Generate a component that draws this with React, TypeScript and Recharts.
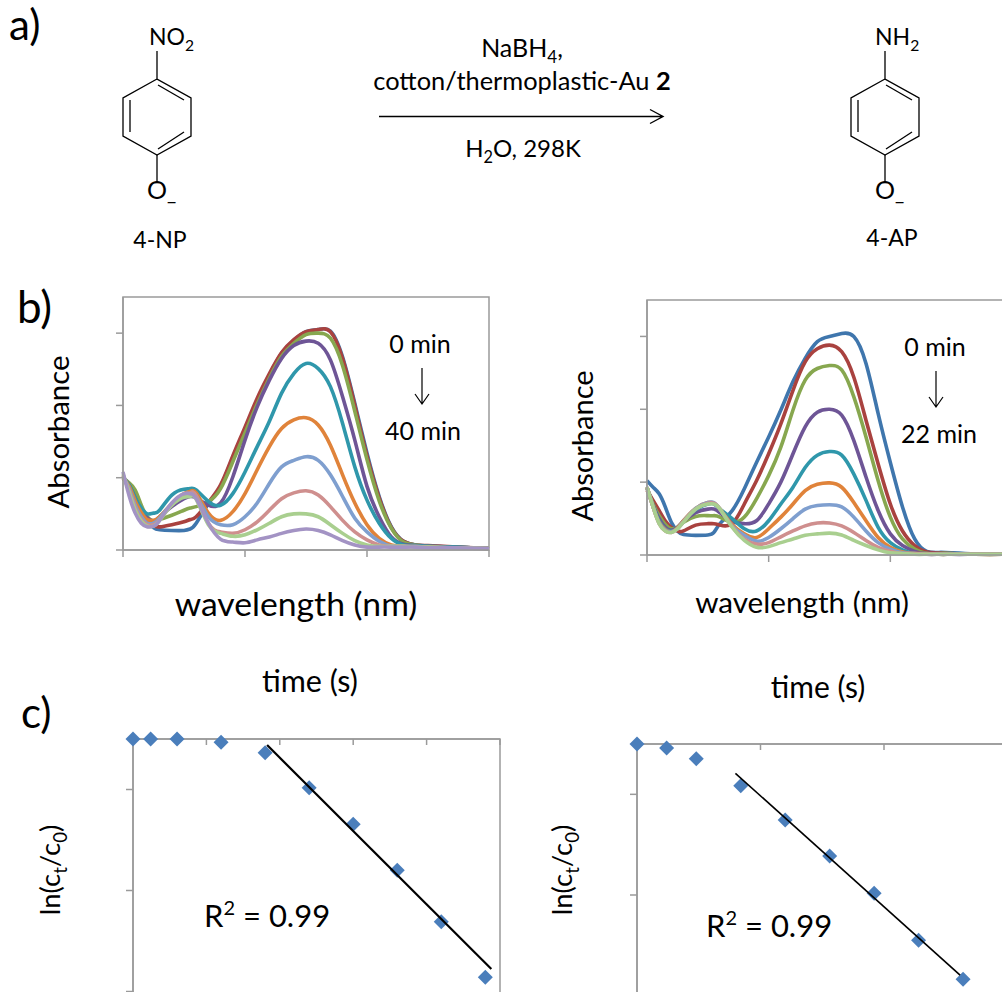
import React from 'react';
import { LineChart, Line, ScatterChart, Scatter, XAxis, YAxis, ReferenceArea } from 'recharts';

const FONT = 'Lato, "Open Sans", sans-serif';
const AXIS = '#9a9a9a';
const COLORS_A = ['#3f76ad', '#a9423f', '#87a74f', '#6e5596', '#2f97ab', '#e0833a', '#7f9fcf', '#cf8f8e', '#a9cf8f', '#a393c4'];
const COLORS_B = ['#3f76ad', '#a9423f', '#87a74f', '#6e5596', '#2f97ab', '#e0833a', '#7f9fcf', '#cf8f8e', '#a9cf8f'];

const wavelengths = [250, 255, 260, 265, 270, 275, 280, 290, 300, 305, 310, 320, 330, 340, 350, 360, 370, 380, 390, 400, 410, 420, 430, 440, 450, 460, 470, 480, 490, 500, 520, 550];

// left panel, 0 to 40 min
const spectraA = [
  [0.99, 0.9, 0.74, 0.55, 0.41, 0.31, 0.28, 0.27, 0.27, 0.29, 0.37, 0.64, 0.88, 1.28, 1.67, 2.07, 2.42, 2.72, 2.9, 3.02, 3.05, 3.03, 2.67, 2.03, 1.34, 0.74, 0.32, 0.12, 0.07, 0.055, 0.04, 0.02],
  [0.99, 0.9, 0.74, 0.55, 0.42, 0.34, 0.32, 0.35, 0.39, 0.42, 0.46, 0.66, 0.9, 1.3, 1.7, 2.1, 2.44, 2.73, 2.91, 3.02, 3.05, 3.02, 2.65, 2.0, 1.3, 0.72, 0.31, 0.12, 0.07, 0.06, 0.045, 0.02],
  [1.0, 0.93, 0.83, 0.62, 0.46, 0.4, 0.42, 0.48, 0.55, 0.58, 0.6, 0.67, 0.85, 1.22, 1.62, 2.02, 2.38, 2.68, 2.86, 2.98, 3.0, 2.93, 2.55, 1.92, 1.25, 0.68, 0.3, 0.11, 0.07, 0.05, 0.04, 0.02],
  [1.0, 0.9, 0.72, 0.55, 0.44, 0.4, 0.46, 0.6, 0.71, 0.74, 0.72, 0.62, 0.65, 1.01, 1.52, 1.98, 2.35, 2.65, 2.83, 2.89, 2.86, 2.63, 2.12, 1.52, 0.88, 0.46, 0.18, 0.08, 0.06, 0.05, 0.04, 0.02],
  [1.0, 0.9, 0.72, 0.58, 0.5, 0.51, 0.55, 0.76, 0.84, 0.85, 0.83, 0.67, 0.62, 0.78, 1.08, 1.43, 1.78, 2.17, 2.44, 2.58, 2.51, 2.26, 1.75, 1.15, 0.69, 0.37, 0.16, 0.07, 0.06, 0.05, 0.04, 0.02],
  [1.0, 0.88, 0.68, 0.52, 0.42, 0.41, 0.46, 0.64, 0.78, 0.81, 0.79, 0.51, 0.41, 0.53, 0.78, 1.11, 1.43, 1.68, 1.8, 1.83, 1.73, 1.45, 1.04, 0.65, 0.35, 0.16, 0.07, 0.05, 0.05, 0.04, 0.03, 0.02],
  [1.02, 0.85, 0.62, 0.46, 0.37, 0.37, 0.44, 0.64, 0.76, 0.78, 0.75, 0.46, 0.35, 0.35, 0.46, 0.65, 0.92, 1.15, 1.24, 1.29, 1.24, 1.04, 0.74, 0.44, 0.25, 0.12, 0.055, 0.05, 0.05, 0.04, 0.03, 0.02],
  [1.03, 0.82, 0.58, 0.42, 0.35, 0.35, 0.42, 0.63, 0.77, 0.79, 0.75, 0.37, 0.25, 0.23, 0.28, 0.39, 0.55, 0.71, 0.79, 0.82, 0.76, 0.6, 0.41, 0.25, 0.14, 0.07, 0.05, 0.05, 0.04, 0.04, 0.03, 0.02],
  [1.05, 0.8, 0.55, 0.4, 0.33, 0.33, 0.41, 0.62, 0.73, 0.74, 0.7, 0.35, 0.23, 0.19, 0.21, 0.28, 0.37, 0.46, 0.5, 0.5, 0.46, 0.35, 0.23, 0.13, 0.07, 0.05, 0.05, 0.05, 0.04, 0.04, 0.03, 0.02],
  [1.08, 0.75, 0.51, 0.37, 0.32, 0.33, 0.41, 0.65, 0.78, 0.78, 0.71, 0.37, 0.15, 0.11, 0.1, 0.14, 0.18, 0.23, 0.27, 0.29, 0.27, 0.21, 0.13, 0.07, 0.04, 0.04, 0.04, 0.04, 0.04, 0.03, 0.03, 0.02],
];

// right panel, 0 to 22 min
const spectraB = [
  [1.02, 0.93, 0.84, 0.66, 0.45, 0.33, 0.28, 0.27, 0.275, 0.31, 0.43, 0.61, 0.91, 1.27, 1.62, 1.99, 2.38, 2.7, 2.93, 3.0, 3.04, 3.0, 2.63, 1.94, 1.27, 0.66, 0.22, 0.05, 0.035, 0.03, 0.014, 0.01],
  [0.89, 0.75, 0.61, 0.47, 0.38, 0.33, 0.33, 0.41, 0.43, 0.43, 0.41, 0.43, 0.7, 1.02, 1.39, 1.8, 2.26, 2.65, 2.83, 2.88, 2.79, 2.44, 1.85, 1.25, 0.7, 0.33, 0.13, 0.04, 0.03, 0.02, 0.01, 0.01],
  [0.93, 0.7, 0.54, 0.42, 0.36, 0.38, 0.45, 0.53, 0.54, 0.54, 0.52, 0.45, 0.52, 0.77, 1.09, 1.48, 1.99, 2.4, 2.56, 2.6, 2.54, 2.17, 1.62, 1.02, 0.52, 0.22, 0.08, 0.02, 0.02, 0.02, 0.01, 0.01],
  [0.93, 0.68, 0.5, 0.38, 0.34, 0.38, 0.46, 0.58, 0.63, 0.63, 0.58, 0.46, 0.43, 0.47, 0.7, 1.0, 1.39, 1.76, 1.96, 2.0, 1.92, 1.57, 1.07, 0.61, 0.29, 0.13, 0.05, 0.02, 0.02, 0.01, 0.01, 0.01],
  [0.92, 0.67, 0.47, 0.36, 0.33, 0.37, 0.47, 0.62, 0.7, 0.7, 0.63, 0.5, 0.36, 0.33, 0.47, 0.7, 0.93, 1.2, 1.37, 1.42, 1.37, 1.11, 0.75, 0.38, 0.17, 0.07, 0.02, 0.02, 0.01, 0.01, 0.01, 0.01],
  [0.92, 0.66, 0.45, 0.35, 0.32, 0.37, 0.47, 0.64, 0.72, 0.71, 0.63, 0.42, 0.29, 0.24, 0.36, 0.52, 0.7, 0.885, 0.97, 0.99, 0.93, 0.72, 0.47, 0.24, 0.105, 0.04, 0.02, 0.02, 0.01, 0.01, 0.01, 0.01],
  [0.92, 0.66, 0.44, 0.34, 0.32, 0.36, 0.46, 0.64, 0.72, 0.72, 0.63, 0.4, 0.27, 0.19, 0.24, 0.36, 0.5, 0.63, 0.68, 0.69, 0.66, 0.52, 0.33, 0.17, 0.08, 0.03, 0.02, 0.01, 0.01, 0.01, 0.01, 0.01],
  [0.93, 0.66, 0.43, 0.33, 0.31, 0.36, 0.46, 0.63, 0.71, 0.71, 0.63, 0.39, 0.22, 0.15, 0.17, 0.25, 0.33, 0.4, 0.44, 0.44, 0.4, 0.31, 0.2, 0.105, 0.05, 0.02, 0.02, 0.01, 0.01, 0.01, 0.01, 0.01],
  [0.93, 0.66, 0.43, 0.33, 0.31, 0.36, 0.45, 0.63, 0.7, 0.7, 0.63, 0.38, 0.2, 0.105, 0.115, 0.17, 0.22, 0.27, 0.29, 0.3, 0.275, 0.2, 0.13, 0.07, 0.03, 0.02, 0.01, 0.01, 0.01, 0.01, 0.01, 0.01],
];

const wavelengthTicks = [250, 350, 450, 550];
const absorbanceTicks = [0, 1, 2, 3];

const timeA = [0, 240, 600, 1200, 1800, 2400, 3000, 3600, 4200, 4800];
const lnA = [0, 0, 0, -0.033, -0.135, -0.482, -0.845, -1.3, -1.81, -2.36];
const fitTimeA = [1827, 4882];
const fitLnA = [-0.06, -2.277];
const timeTicksA = [0, 1000, 2000, 3000, 4000, 5000];

const timeB = [0, 240, 480, 840, 1200, 1560, 1920, 2280, 2640];
const lnB = [0, -0.04, -0.146, -0.414, -0.755, -1.113, -1.483, -1.95, -2.338];
const fitTimeB = [797, 2616];
const fitLnB = [-0.291, -2.295];
const timeTicksB = [0, 1000, 2000, 3000];

const lnTicks = [-0.5, -1.5, -2.5];

const toRows = (spectra: number[][]) =>
  wavelengths.map((w, i) => {
    const row: Record<string, number> = { w };
    spectra.forEach((s, k) => {
      row['s' + k] = s[i];
    });
    return row;
  });

const toPoints = (t: number[], v: number[]) => t.map((x, i) => ({ t: x, v: v[i] }));

// the panels carry tick marks but no tick labels
const NoLabel = () => <g />;

const Diamond = (props: any) => {
  const { cx, cy } = props;
  const r = 7.5;
  return <path d={`M${cx},${cy - r}L${cx + r},${cy}L${cx},${cy + r}L${cx - r},${cy}Z`} fill="#4a7ebb" />;
};

function SpectraChart({ spectra, colors, left, top, width, height }: any) {
  return (
    <div style={{ position: 'absolute', left: left - 30, top: top - 10 }}>
      <LineChart
        width={width + 40}
        height={height + 30}
        data={toRows(spectra)}
        margin={{ top: 10, right: 10, bottom: 0, left: 0 }}
      >
        <XAxis dataKey="w" type="number" domain={[250, 550]} ticks={wavelengthTicks} tick={NoLabel} tickSize={7} height={20} stroke={AXIS} strokeWidth={1.5} />
        <YAxis type="number" domain={[0, 3.5]} ticks={absorbanceTicks} tick={NoLabel} tickSize={7} width={30} stroke={AXIS} strokeWidth={1.5} />
        <ReferenceArea x1={250} x2={550} y1={0} y2={3.5} fill="none" stroke={AXIS} strokeWidth={1.5} />
        {spectra.map((_: number[], k: number) => (
          <Line key={k} dataKey={'s' + k} type="natural" stroke={colors[k]} strokeWidth={3.6} dot={false} isAnimationActive={false} />
        ))}
      </LineChart>
    </div>
  );
}

function KineticsChart({ points, fit, xMax, xTicks, fitWidth, left, top, width, height }: any) {
  return (
    <div style={{ position: 'absolute', left: left - 30, top: top - 15 }}>
      <ScatterChart width={width + 45} height={height + 15} margin={{ top: 15, right: 15, bottom: 0, left: 0 }}>
        <XAxis dataKey="t" type="number" orientation="top" mirror domain={[0, xMax]} ticks={xTicks} tick={NoLabel} tickSize={6} stroke={AXIS} strokeWidth={1.5} />
        <YAxis dataKey="v" type="number" domain={[-3, 0]} ticks={lnTicks} tick={NoLabel} tickSize={7} width={30} stroke={AXIS} strokeWidth={1.5} />
        <ReferenceArea x1={0} x2={xMax} y1={-3} y2={0} fill="none" stroke={AXIS} strokeWidth={1.5} />
        <Scatter data={points} shape={Diamond} isAnimationActive={false} />
        <Scatter data={fit} line={{ stroke: '#000', strokeWidth: fitWidth }} shape={NoLabel} isAnimationActive={false} />
      </ScatterChart>
    </div>
  );
}

// odd parts are subscripts
function Subbed({ parts, size }: { parts: string[]; size: number }) {
  const d = size * 0.24;
  return (
    <>
      {parts.map((p, i) =>
        i % 2 ? (
          <tspan key={i} dy={d} fontSize={size * 0.68}>{p}</tspan>
        ) : (
          <tspan key={i} dy={i ? -d : 0} fontSize={size}>{p}</tspan>
        ),
      )}
    </>
  );
}

function Molecule({ cx, top, label, tx, name, nameX, nameY }: any) {
  const l = cx - 34;
  const r = cx + 34;
  return (
    <g>
      <g stroke="#000" strokeWidth={1.3} fill="none">
        <path d={`M${cx},${top - 28}V${top}L${r},${top + 19}V${top + 57}L${cx},${top + 76}L${l},${top + 57}V${top + 19}L${cx},${top}`} />
        <path d={`M${cx},${top + 76}V${top + 103}`} />
        <path d={`M${cx + 1},${top + 6}L${cx + 27},${top + 21}`} />
        <path d={`M${l + 7},${top + 21}V${top + 53}`} />
        <path d={`M${cx + 1},${top + 70}L${cx + 27},${top + 53}`} />
      </g>
      <text x={tx} y={45} fontSize={23}><Subbed parts={label} size={23} /></text>
      <text x={cx - 10} y={199} fontSize={25}>O<tspan dy={1} fontSize={20}>_</tspan></text>
      <text x={nameX} y={nameY} fontSize={23} textAnchor="middle">{name}</text>
    </g>
  );
}

function Notes() {
  return (
    <svg width={1002} height={992} style={{ position: 'absolute', left: 0, top: 0, fontFamily: FONT }} fill="#000">
      <text x={9} y={40} fontSize={42}>a)</text>
      <text x={17} y={323} fontSize={44}>b)</text>
      <text x={21} y={728} fontSize={42}>c)</text>

      <Molecule cx={157} top={79} label={['NO', '2']} tx={149} name="4-NP" nameX={160} nameY={248} />
      <Molecule cx={885} top={79} label={['NH', '2']} tx={875} name="4-AP" nameX={892} nameY={246} />

      <text x={522} y={57} textAnchor="middle"><Subbed parts={['NaBH', '4', ',']} size={25} /></text>
      <text x={522} y={90} fontSize={25.4} textAnchor="middle">cotton/thermoplastic-Au <tspan fontWeight={700}>2</tspan></text>
      <path d="M379,116.5H663M650,109.5L663,116.5L650,123.5" stroke="#000" strokeWidth={1.4} fill="none" />
      <text x={523} y={157} textAnchor="middle"><Subbed parts={['H', '2', 'O, 298K']} size={24} /></text>

      <text transform="translate(69,432) rotate(-90)" fontSize={29.4} textAnchor="middle">Absorbance</text>
      <text transform="translate(593,446) rotate(-90)" fontSize={29} textAnchor="middle">Absorbance</text>
      <text x={296} y={616} fontSize={33.7} textAnchor="middle">wavelength (nm)</text>
      <text x={802} y={613} fontSize={29.7} textAnchor="middle">wavelength (nm)</text>

      <text x={420} y={353} fontSize={25} textAnchor="middle">0 min</text>
      <text x={423} y={440} fontSize={25} textAnchor="middle">40 min</text>
      <path d="M422,368V404M415,394L422,404L429,394" stroke="#000" strokeWidth={1.2} fill="none" />
      <text x={935} y={356} fontSize={25} textAnchor="middle">0 min</text>
      <text x={939} y={443} fontSize={25} textAnchor="middle">22 min</text>
      <path d="M936,371V407M929,397L936,407L943,397" stroke="#000" strokeWidth={1.2} fill="none" />

      <text x={310} y={692} fontSize={30.5} textAnchor="middle">time (s)</text>
      <text x={818} y={698} fontSize={30} textAnchor="middle">time (s)</text>

      <text transform="translate(60,870) rotate(-90)" textAnchor="middle"><Subbed parts={['ln(c', 't', '/c', '0', ')']} size={27.5} /></text>
      <text transform="translate(572,870) rotate(-90)" textAnchor="middle"><Subbed parts={['ln(c', 't', '/c', '0', ')']} size={27.5} /></text>

      <text x={204} y={927} fontSize={31}>R<tspan dy={-12} fontSize={20}>2</tspan><tspan dy={12}> = 0.99</tspan></text>
      <text x={706} y={937} fontSize={31}>R<tspan dy={-12} fontSize={20}>2</tspan><tspan dy={12}> = 0.99</tspan></text>
    </svg>
  );
}

export default function App() {
  return (
    <div style={{ position: 'absolute', left: 0, top: 0, width: 1002, height: 992, overflow: 'hidden', background: '#fff' }}>
      <SpectraChart spectra={spectraA} colors={COLORS_A} left={122.5} top={297} width={366} height={253} />
      <SpectraChart spectra={spectraB} colors={COLORS_B} left={646.5} top={299.5} width={365} height={255} />
      <KineticsChart points={toPoints(timeA, lnA)} fit={toPoints(fitTimeA, fitLnA)} xMax={5000} xTicks={timeTicksA} fitWidth={2.2} left={132.5} top={739} width={367} height={303} />
      <KineticsChart points={toPoints(timeB, lnB)} fit={toPoints(fitTimeB, fitLnB)} xMax={3000} xTicks={timeTicksB} fitWidth={1.6} left={636.5} top={744} width={370.5} height={302} />
      <Notes />
    </div>
  );
}
